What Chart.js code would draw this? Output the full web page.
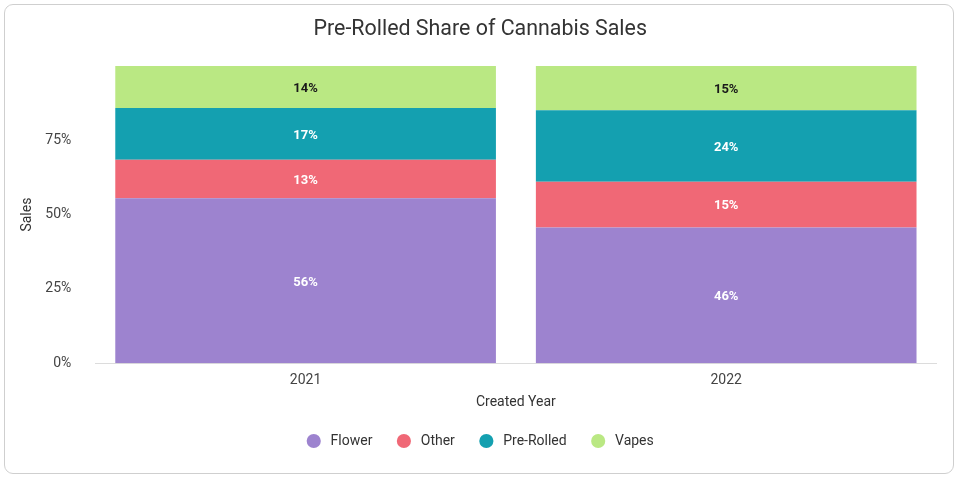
<!DOCTYPE html>
<html>
<head>
<meta charset="utf-8">
<script src="https://cdn.jsdelivr.net/npm/chart.js@4/dist/chart.umd.min.js"></script>
<style>
  html, body { margin: 0; padding: 0; background: #fff; }
  #wrap { position: relative; width: 960px; height: 477px; }
  #frame { position: absolute; left: 4px; top: 4px; width: 950px; height: 470px; box-sizing: border-box;
           border: 1px solid #cfcfcf; border-radius: 9px; pointer-events: none; }
  canvas { position: absolute; left: 0; top: 0; }
</style>
</head>
<body>
<div id="wrap">
  <canvas id="c" width="960" height="477"></canvas>
  <div id="frame"></div>
</div>
<script>
const categories = ['2021', '2022'];
const seriesNames = ['Flower', 'Other', 'Pre-Rolled', 'Vapes'];
const flower = [55.5, 45.7];
const other = [12.9, 15.3];
const preRolled = [17.4, 24.1];
const vapes = [14.2, 14.9];
const yTicks = [0, 25, 50, 75, 100];

const colors = ['#9d83cf', '#f06876', '#14a0b0', '#bae883'];
const labelColors = ['#ffffff', '#ffffff', '#ffffff', '#1a1a1a'];
const seriesValues = [flower, other, preRolled, vapes];

const FONT = 'Roboto, "Noto Sans", sans-serif';

const barLabels = {
  id: 'barLabels',
  afterDatasetsDraw(chart) {
    const ctx = chart.ctx;
    ctx.save();
    ctx.font = 'bold 13px ' + FONT;
    ctx.textAlign = 'center';
    ctx.textBaseline = 'middle';
    chart.data.datasets.forEach((ds, i) => {
      const meta = chart.getDatasetMeta(i);
      meta.data.forEach((el, j) => {
        const v = ds.data[j];
        ctx.fillStyle = labelColors[i];
        ctx.fillText(Math.round(v) + '%', el.x, (el.y + el.base) / 2 + 1.5);
      });
    });
    ctx.restore();
  }
};

new Chart(document.getElementById('c'), {
  type: 'bar',
  data: {
    labels: categories,
    datasets: seriesNames.map((name, i) => ({
      label: name,
      data: seriesValues[i],
      backgroundColor: colors[i],
      borderWidth: 0,
      categoryPercentage: 1.0,
      barPercentage: 0.905
    }))
  },
  options: {
    responsive: false,
    animation: false,
    devicePixelRatio: 1,
    layout: { padding: { left: 24, right: 23.5, top: 0, bottom: 19 } },
    plugins: {
      title: {
        display: true,
        text: 'Pre-Rolled Share of Cannabis Sales',
        color: '#333333',
        font: { family: FONT, size: 21.4, weight: 'normal' },
        padding: { top: 17, bottom: 23.2 }
      },
      legend: {
        position: 'bottom',
        labels: {
          usePointStyle: true,
          pointStyle: 'circle',
          boxWidth: 14,
          boxHeight: 10,
          padding: 24.5,
          color: '#333333',
          font: { family: FONT, size: 14 },
          generateLabels(chart) {
            const items = Chart.defaults.plugins.legend.labels.generateLabels(chart);
            items.forEach(it => { it.text = '\u2009' + it.text; });
            return items;
          }
        }
      },
      tooltip: { enabled: false }
    },
    scales: {
      x: {
        stacked: true,
        grid: { display: false, drawTicks: false },
        border: { display: true, color: '#dcdcdc', width: 1 },
        ticks: { color: '#444444', font: { family: FONT, size: 14 }, padding: 9 },
        title: {
          display: true,
          text: 'Created Year',
          color: '#333333',
          font: { family: FONT, size: 14 },
          padding: { top: 0, bottom: -1.7 }
        },
        afterFit(scale) { scale.height = 46.2; }
      },
      y: {
        stacked: true,
        min: 0,
        max: 100,
        afterBuildTicks(scale) { scale.ticks = yTicks.map(v => ({ value: v })); },
        grid: { display: false, drawTicks: false },
        border: { display: false },
        ticks: {
          color: '#444444',
          font: { family: FONT, size: 14 },
          padding: 24,
          callback: (v) => (v === 100 ? '' : v + '%')
        },
        title: {
          display: true,
          text: 'Sales',
          color: '#333333',
          font: { family: FONT, size: 14 },
          padding: { top: -5.4, bottom: 0 }
        },
        afterFit(scale) { scale.width = 71.3; }
      }
    }
  },
  plugins: [barLabels]
});
</script>
</body>
</html>
